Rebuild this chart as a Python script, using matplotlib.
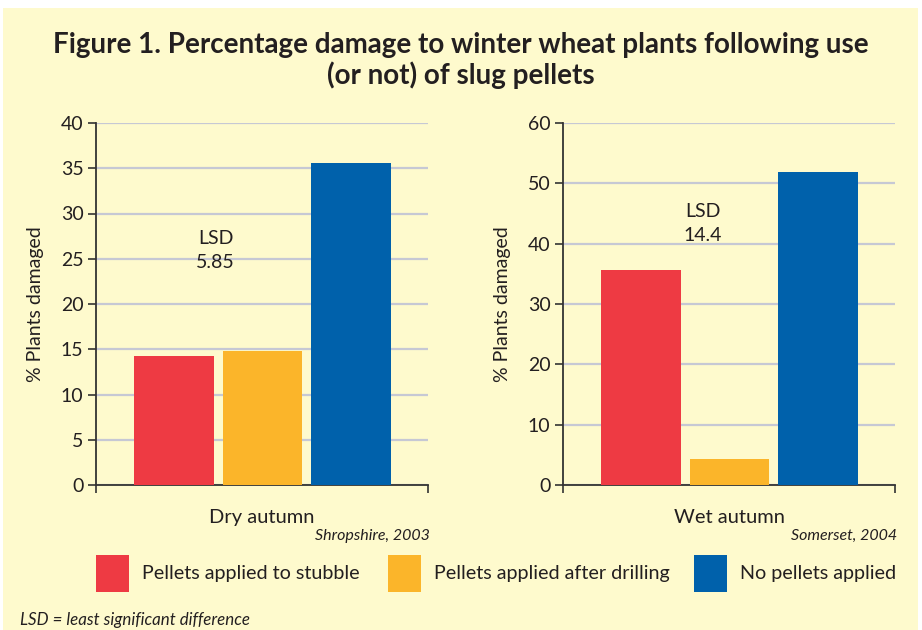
import matplotlib
matplotlib.use('Agg')
import matplotlib.pyplot as plt
from matplotlib.patches import Rectangle

# data
treatments = ['Pellets applied to stubble', 'Pellets applied after drilling', 'No pellets applied']
colours = ['#EE3A43', '#FBB52A', '#0061AB']
dry = [14.3, 14.8, 35.6]
wet = [35.7, 4.3, 51.8]
lsd_dry = '5.85'
lsd_wet = '14.4'
dry_ticks = [0, 5, 10, 15, 20, 25, 30, 35, 40]
wet_ticks = [0, 10, 20, 30, 40, 50, 60]

W, H = 922, 630
bg = '#FEFACD'
ink = '#231F20'
grid_c = '#C6C8D4'

plt.rcParams['font.family'] = ['Lato', 'DejaVu Sans']
plt.rcParams['text.color'] = ink

fig = plt.figure(figsize=(W / 100, H / 100), dpi=100, facecolor='white')

def fx(px):
    return px / W

def fy(py):
    return 1 - py / H

# yellow panel
fig.add_artist(Rectangle((fx(3), 0), fx(915), fy(8), transform=fig.transFigure,
                         facecolor=bg, edgecolor='none', zorder=-10))

fig.text(0.5, fy(45), 'Figure 1. Percentage damage to winter wheat plants following use',
         ha='center', va='center', fontsize=20, fontweight='bold')
fig.text(0.5, fy(75), '(or not) of slug pellets',
         ha='center', va='center', fontsize=20, fontweight='bold')


def panel(left_px, vals, ticks, xlabel, site, lsd, lsd_xy):
    ax = fig.add_axes([fx(left_px), fy(485), fx(332), (485 - 123) / H])
    ax.set_facecolor(bg)
    ax.patch.set_alpha(0)
    x = [0, 1, 2]
    ax.bar(x, vals, width=0.9, color=colours, zorder=3)
    ax.set_xlim(-0.88, 2.87)
    ax.set_ylim(ticks[0], ticks[-1])
    ax.set_yticks(ticks)
    ax.set_yticklabels([str(t) for t in ticks], fontsize=14, color=ink)
    ax.set_xticks([-0.88, 2.87])
    ax.set_xticklabels(['', ''])
    ax.tick_params(axis='both', direction='out', length=6, width=1.2, color='#333333', pad=3)
    ax.yaxis.grid(True, color=grid_c, linewidth=1.6, zorder=0)
    ax.set_axisbelow(True)
    for s in ['top', 'right']:
        ax.spines[s].set_visible(False)
    for s in ['left', 'bottom']:
        ax.spines[s].set_color('#333333')
        ax.spines[s].set_linewidth(1.3)
    ax.set_ylabel('% Plants damaged', fontsize=14, color=ink, labelpad=12)
    ax.set_xlabel(xlabel, fontsize=14.5, color=ink, labelpad=8)
    ax.text(lsd_xy[0], lsd_xy[1], 'LSD\n' + lsd, transform=ax.transAxes,
            ha='center', va='center', fontsize=14, linespacing=1.5)
    fig.text(fx(left_px + 334), fy(536), site, ha='right', va='center',
             fontsize=11.5, style='italic')
    return ax


panel(96, dry, dry_ticks, 'Dry autumn', 'Shropshire, 2003', lsd_dry, (0.36, 0.649))
panel(563, wet, wet_ticks, 'Wet autumn', 'Somerset, 2004', lsd_wet, (0.42, 0.722))

# legend
patch_x = [96, 388, 694]
for px, c, lab in zip(patch_x, colours, treatments):
    fig.add_artist(Rectangle((fx(px), fy(592)), fx(33), (592 - 555) / H,
                             transform=fig.transFigure, facecolor=c, edgecolor='none'))
    fig.text(fx(px + 46), fy(574), lab, ha='left', va='center', fontsize=14.2)

fig.text(fx(20), fy(620), 'LSD = least significant difference', ha='left', va='center',
         fontsize=12.2, style='italic')

fig.savefig('out.png', dpi=100, facecolor=fig.get_facecolor())
